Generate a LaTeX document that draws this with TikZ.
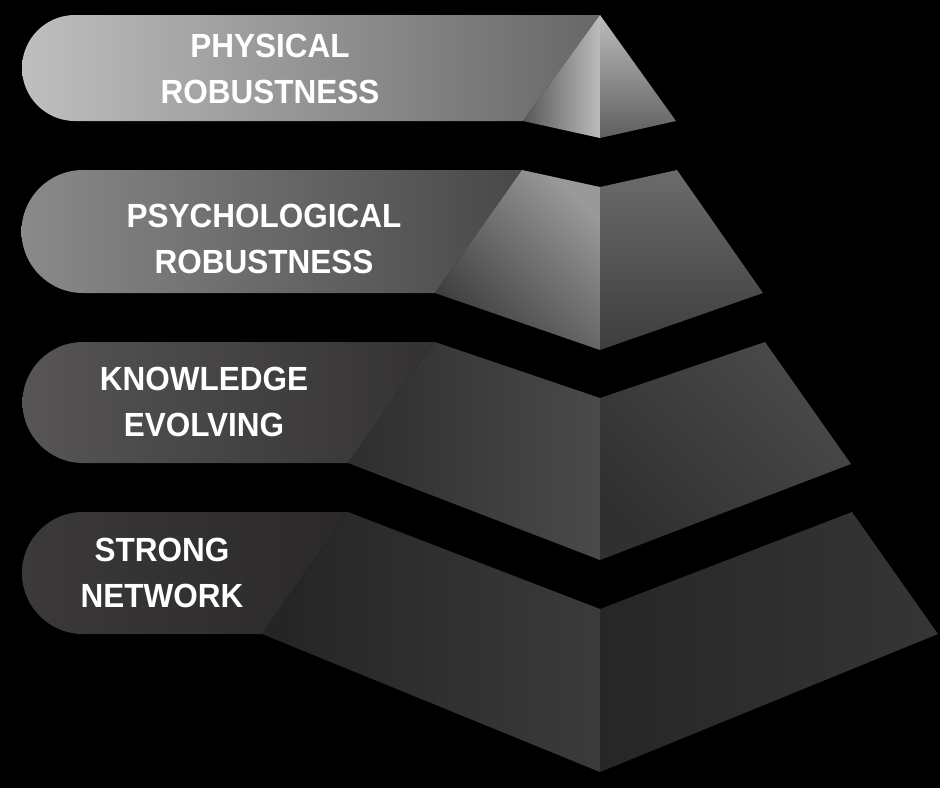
\documentclass[tikz,border=0pt]{standalone}
\usepackage{fontspec}
\newfontfamily\tierfont[FakeStretch=0.94]{Liberation Sans}
\usetikzlibrary{positioning}
\definecolor{tabA}{HTML}{BFBFBF}
\definecolor{tabAend}{HTML}{676767}
\definecolor{tabB}{HTML}{8A8A8A}
\definecolor{tabBend}{HTML}{494747}
\definecolor{tabC}{HTML}{575555}
\definecolor{tabCend}{HTML}{333131}
\definecolor{tabD}{HTML}{3B3939}
\definecolor{tabDend}{HTML}{2A2828}
\tikzset{
  tier text/.style={text=white, font=\tierfont\bfseries\fontsize{33.5}{46}\selectfont, align=center, inner sep=0pt},
  face/.style={draw=none},
}

\begin{document}
\begin{tikzpicture}[x=1pt, y=-1pt]
  % Background
  \fill[black] (0,0) rectangle (940,788);
  \useasboundingbox (0,0) rectangle (940,788);

  % Tabs
  \shade[left color=tabA, right color=tabAend] (600,15) -- (75,15)
    arc[start angle=270, end angle=90, radius=53] -- (523,121) -- cycle;
  \shade[left color=tabB, right color=tabBend] (522,170) -- (83,170)
    arc[start angle=270, end angle=90, radius=61.5] -- (435,293) -- cycle;
  \shade[left color=tabC, right color=tabCend] (435,342) -- (83,342)
    arc[start angle=270, end angle=90, radius=60.5] -- (348,463) -- cycle;
  \shade[left color=tabD, right color=tabDend] (348,512) -- (83,512)
    arc[start angle=270, end angle=90, radius=61] -- (262,634) -- cycle;

  % Top tier
  \shade[face, left color=black!66, right color=black!26] (600,15) -- (523,121) -- (600,138) -- cycle;
  \shade[face, top color=black!26, bottom color=black!63] (600,15) -- (676,121) -- (600,138) -- cycle;

  % Second tier
  \shade[face, bottom color=black!77, top color=black!40, shading angle=-45]
    (522,170) -- (600,187) -- (600,350) -- (435,293) -- cycle;
  \shade[face, top color=black!58, bottom color=black!76]
    (600,187) -- (677,170) -- (763,293) -- (600,350) -- cycle;

  % Third tier
  \shade[face, left color=black!82, right color=black!71]
    (435,342) -- (600,398) -- (600,560) -- (348,463) -- cycle;
  \shade[face, bottom color=black!81, top color=black!71, shading angle=-45]
    (600,398) -- (765,342) -- (851,464) -- (600,560) -- cycle;

  % Bottom tier
  \shade[face, left color=black!86, right color=black!77]
    (348,512) -- (600,609) -- (600,772) -- (262,634) -- cycle;
  \shade[face, left color=black!85, right color=black!79]
    (600,609) -- (852,512) -- (938,634) -- (600,772) -- cycle;

  % Labels
  \node[tier text] (physical) at (270,68.5) {PHYSICAL\\ROBUSTNESS};
  \node[tier text] (psycho) at (264,239) {PSYCHOLOGICAL\\ROBUSTNESS};
  \node[tier text] (knowledge) at (204,401.5) {KNOWLEDGE\\EVOLVING};
  \node[tier text] (network) at (162,572.5) {STRONG\\NETWORK};
\end{tikzpicture}
\end{document}
